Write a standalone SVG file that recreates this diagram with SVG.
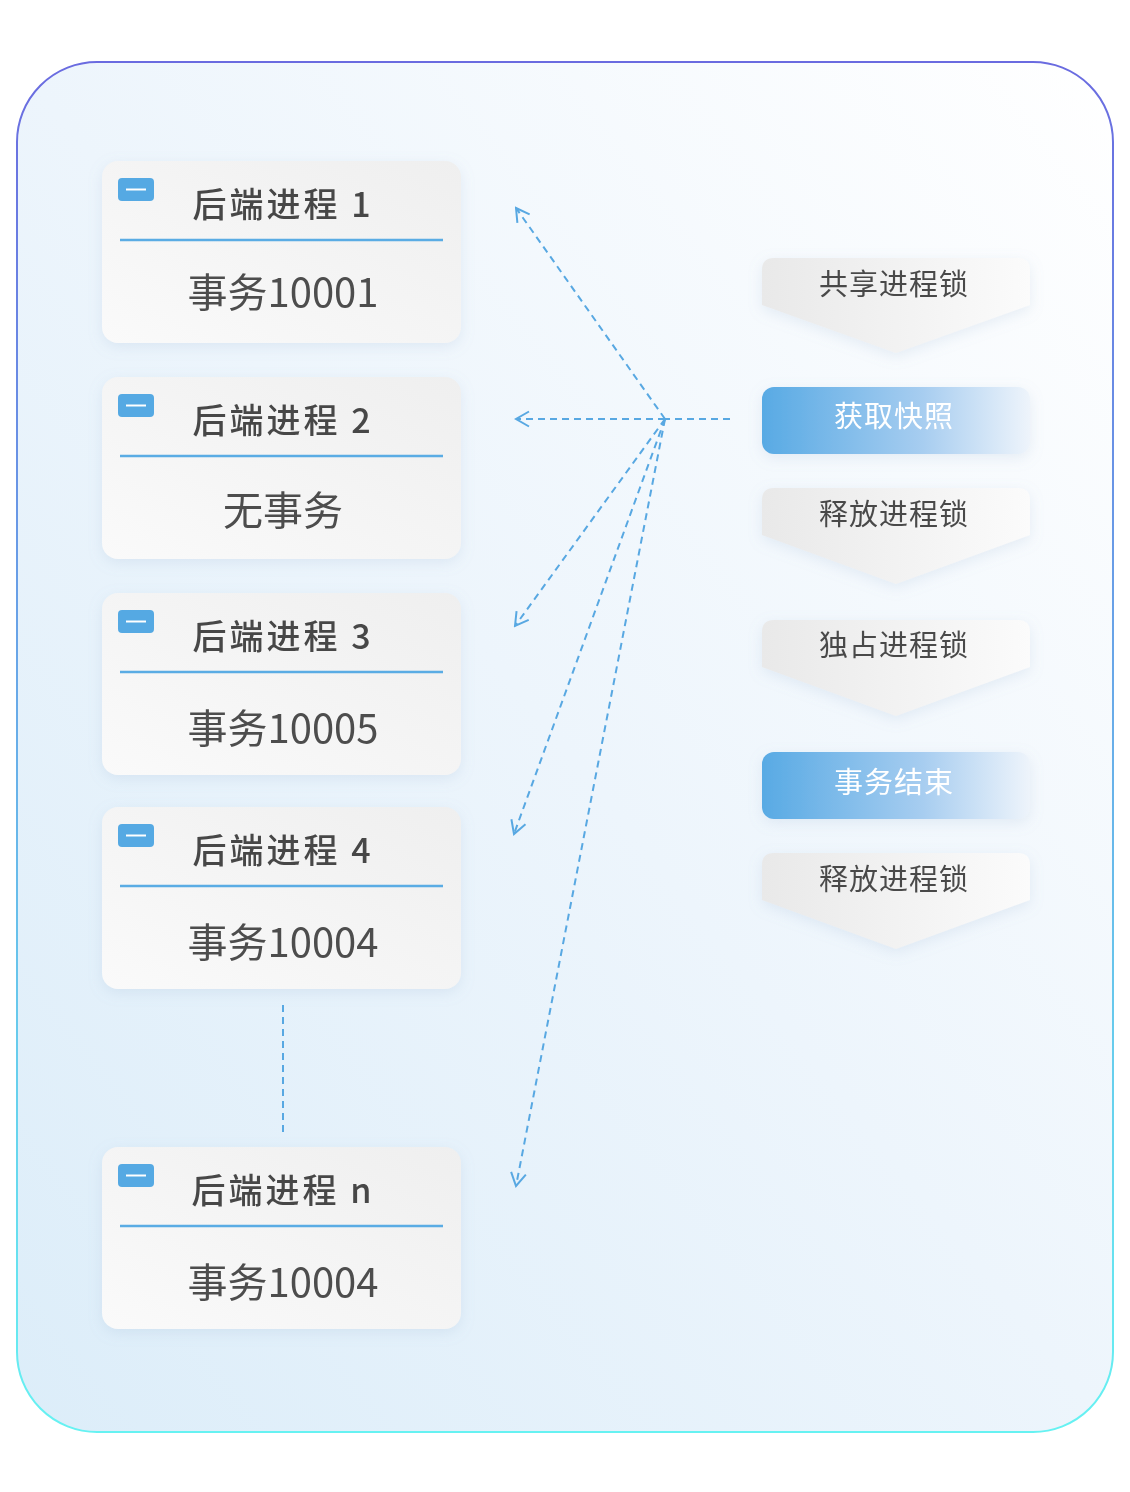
<svg xmlns="http://www.w3.org/2000/svg" width="1130" height="1492" viewBox="0 0 1130 1492">
<defs>
<linearGradient id="bg" x1="1" y1="0" x2="0" y2="1">
<stop offset="0" stop-color="#ffffff"/>
<stop offset="0.5" stop-color="#edf5fc"/>
<stop offset="1" stop-color="#dcedf9"/>
</linearGradient>
<linearGradient id="frame" x1="0" y1="0" x2="0" y2="1">
<stop offset="0" stop-color="#6a6be0"/>
<stop offset="1" stop-color="#66f2f2"/>
</linearGradient>
<linearGradient id="card" x1="0" y1="1" x2="1" y2="0">
<stop offset="0" stop-color="#fafafa"/>
<stop offset="1" stop-color="#efefef"/>
</linearGradient>
<linearGradient id="step" x1="0" y1="0" x2="1" y2="0">
<stop offset="0" stop-color="#e9e9e9"/>
<stop offset="1" stop-color="#fbfbfb"/>
</linearGradient>
<linearGradient id="blue" x1="0" y1="0" x2="1" y2="0">
<stop offset="0" stop-color="#58aae4"/>
<stop offset="0.6" stop-color="#a7cdf0"/>
<stop offset="1" stop-color="#eef4fb"/>
</linearGradient>
<filter id="sh" x="-20%" y="-20%" width="140%" height="150%">
<feDropShadow dx="0" dy="4" stdDeviation="7" flood-color="#8aa8c8" flood-opacity="0.18"/>
</filter>
<marker id="ah" viewBox="0 0 18 18" refX="16" refY="9" markerWidth="18" markerHeight="18" markerUnits="userSpaceOnUse" orient="auto">
<path d="M3 1.5 L16 9 L3 16.5" fill="none" stroke="#58a8e2" stroke-width="2"/>
</marker>
<style>
.ttl{font-family:"Noto Sans CJK SC","Noto Sans",sans-serif;font-size:34px;font-weight:500;fill:#474747;text-anchor:middle;letter-spacing:3px}
.body{font-family:"Noto Sans CJK SC","Noto Sans",sans-serif;font-size:40px;fill:#4d4d4d;text-anchor:middle}
.stxt{font-family:"Noto Sans CJK SC",sans-serif;font-size:29px;fill:#4a4a4a;text-anchor:middle;letter-spacing:1px}
.btxt{font-family:"Noto Sans CJK SC",sans-serif;font-size:29px;fill:#ffffff;text-anchor:middle;letter-spacing:1px}
.sep{stroke:#5aace4;stroke-width:2.5}
.dash{fill:none;stroke:#58a8e2;stroke-width:2;stroke-dasharray:7 5}
</style>
</defs>
<rect x="17" y="62" width="1096" height="1370" rx="80" fill="url(#bg)" stroke="url(#frame)" stroke-width="2"/>

<g id="card1" filter="url(#sh)">
<rect x="102" y="161" width="359" height="182" rx="16" fill="url(#card)"/>
<rect x="118" y="178" width="36" height="23" rx="4" fill="#55a9e3"/>
<line x1="126" y1="189.5" x2="146" y2="189.5" stroke="#fff" stroke-width="2"/>
<text x="283" y="217" class="ttl">后端进程 1</text>
<line x1="120" y1="240" x2="443" y2="240" class="sep"/>
<text x="283" y="307" class="body">事务10001</text>
</g>
<g id="card2" filter="url(#sh)">
<rect x="102" y="377" width="359" height="182" rx="16" fill="url(#card)"/>
<rect x="118" y="394" width="36" height="23" rx="4" fill="#55a9e3"/>
<line x1="126" y1="405.5" x2="146" y2="405.5" stroke="#fff" stroke-width="2"/>
<text x="283" y="433" class="ttl">后端进程 2</text>
<line x1="120" y1="456" x2="443" y2="456" class="sep"/>
<text x="283" y="525" class="body">无事务</text>
</g>
<g id="card3" filter="url(#sh)">
<rect x="102" y="593" width="359" height="182" rx="16" fill="url(#card)"/>
<rect x="118" y="610" width="36" height="23" rx="4" fill="#55a9e3"/>
<line x1="126" y1="621.5" x2="146" y2="621.5" stroke="#fff" stroke-width="2"/>
<text x="283" y="649" class="ttl">后端进程 3</text>
<line x1="120" y1="672" x2="443" y2="672" class="sep"/>
<text x="283" y="743" class="body">事务10005</text>
</g>
<g id="card4" filter="url(#sh)">
<rect x="102" y="807" width="359" height="182" rx="16" fill="url(#card)"/>
<rect x="118" y="824" width="36" height="23" rx="4" fill="#55a9e3"/>
<line x1="126" y1="835.5" x2="146" y2="835.5" stroke="#fff" stroke-width="2"/>
<text x="283" y="863" class="ttl">后端进程 4</text>
<line x1="120" y1="886" x2="443" y2="886" class="sep"/>
<text x="283" y="957" class="body">事务10004</text>
</g>
<g id="cardn" filter="url(#sh)">
<rect x="102" y="1147" width="359" height="182" rx="16" fill="url(#card)"/>
<rect x="118" y="1164" width="36" height="23" rx="4" fill="#55a9e3"/>
<line x1="126" y1="1175.5" x2="146" y2="1175.5" stroke="#fff" stroke-width="2"/>
<text x="283" y="1203" class="ttl">后端进程 n</text>
<line x1="120" y1="1226" x2="443" y2="1226" class="sep"/>
<text x="283" y="1297" class="body">事务10004</text>
</g>

<g id="step1" filter="url(#sh)">
<path d="M774 258 H1018 Q1030 258 1030 270 V305 L896 353 L762 305 V270 Q762 258 774 258 Z" fill="url(#step)"/>
<text x="894" y="295" class="stxt">共享进程锁</text>
</g>
<g id="step2" filter="url(#sh)">
<rect x="762" y="387" width="268" height="67" rx="12" fill="url(#blue)"/>
<text x="894" y="427" class="btxt">获取快照</text>
</g>
<g id="step3" filter="url(#sh)">
<path d="M774 488 H1018 Q1030 488 1030 500 V535 L896 584 L762 535 V500 Q762 488 774 488 Z" fill="url(#step)"/>
<text x="894" y="525" class="stxt">释放进程锁</text>
</g>
<g id="step4" filter="url(#sh)">
<path d="M774 620 H1018 Q1030 620 1030 632 V667 L896 716 L762 667 V632 Q762 620 774 620 Z" fill="url(#step)"/>
<text x="894" y="656" class="stxt">独占进程锁</text>
</g>
<g id="step5" filter="url(#sh)">
<rect x="762" y="752" width="268" height="67" rx="12" fill="url(#blue)"/>
<text x="894" y="793" class="btxt">事务结束</text>
</g>
<g id="step6" filter="url(#sh)">
<path d="M774 853 H1018 Q1030 853 1030 865 V900 L896 949 L762 900 V865 Q762 853 774 853 Z" fill="url(#step)"/>
<text x="894" y="890" class="stxt">释放进程锁</text>
</g>

<g id="connectors">
<line x1="730" y1="419" x2="665" y2="419" class="dash"/>
<line x1="665" y1="419" x2="516" y2="208" class="dash" marker-end="url(#ah)"/>
<line x1="665" y1="419" x2="516" y2="419" class="dash" marker-end="url(#ah)"/>
<line x1="665" y1="419" x2="515" y2="626" class="dash" marker-end="url(#ah)"/>
<line x1="665" y1="419" x2="514" y2="834" class="dash" marker-end="url(#ah)"/>
<line x1="665" y1="419" x2="516" y2="1186" class="dash" marker-end="url(#ah)"/>
<line x1="283" y1="1005" x2="283" y2="1132" class="dash"/>
</g>
</svg>
